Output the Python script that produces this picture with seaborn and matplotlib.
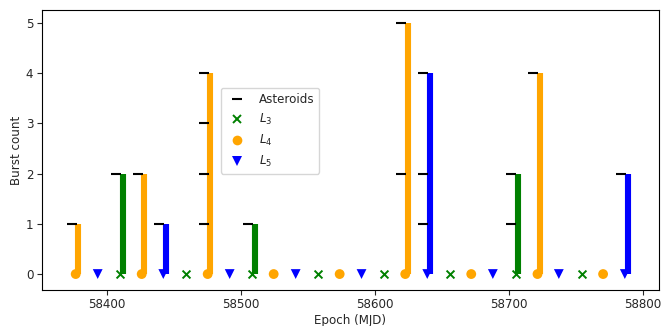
import matplotlib
matplotlib.use("Agg")
import matplotlib.pyplot as plt
import seaborn as sns
import pandas as pd
from matplotlib.lines import Line2D

sns.set_style("ticks")
plt.rcParams['font.family'] = ['DejaVu Sans']
plt.rcParams['font.size'] = 8.6

# Epochs (MJD) of observation windows for each Lagrange region
l3_epochs = [58410.1, 58459.0, 58508.4, 58557.8, 58607.0, 58656.0, 58704.9, 58754.6]
l4_epochs = [58377.0, 58426.2, 58475.4, 58524.6, 58573.8, 58622.7, 58671.9, 58721.3, 58770.2]
l5_epochs = [58393.4, 58442.3, 58491.8, 58541.0, 58590.1, 58639.1, 58688.0, 58737.2, 58786.4]

# Burst counts per epoch
burst_epochs = [58377.0, 58410.1, 58426.2, 58442.3, 58475.4, 58508.4, 58622.7, 58639.1, 58704.9, 58721.3, 58786.4]
burst_counts = [1, 2, 2, 1, 4, 1, 5, 4, 2, 4, 2]
burst_region = ["L4", "L3", "L4", "L5", "L4", "L3", "L4", "L5", "L3", "L4", "L5"]

# Asteroid marks (epoch, level)
ast_epochs = [58377.0, 58410.1, 58426.2, 58442.3,
              58475.4, 58475.4, 58475.4, 58475.4,
              58508.4, 58622.7, 58622.7,
              58639.1, 58639.1, 58639.1,
              58704.9, 58704.9, 58721.3, 58786.4]
ast_levels = [1, 2, 2, 1,
              1, 2, 3, 4,
              1, 2, 5,
              1, 2, 4,
              1, 2, 4, 2]

colors = {"L3": "green", "L4": "orange", "L5": "blue"}
markers = {"L3": "x", "L4": "o", "L5": "v"}

fig = plt.figure(figsize=(6.63, 3.26), dpi=100)
ax = fig.add_axes([0.063, 0.110, 0.931, 0.859])

# Bars
bdf = pd.DataFrame({"epoch": burst_epochs, "count": burst_counts, "region": burst_region})
for _, r in bdf.iterrows():
    ax.vlines(r["epoch"] + 2.0, 0, r["count"], color=colors[r["region"]], linewidth=4.4, zorder=2)

# Asteroid markers
adf = pd.DataFrame({"epoch": [e - 3.0 for e in ast_epochs], "level": ast_levels})
sns.scatterplot(data=adf, x="epoch", y="level", marker="_", color="black", s=45,
                linewidth=1.5, ax=ax, zorder=3, legend=False)

# Region markers at zero
for reg, eps in (("L3", l3_epochs), ("L4", l4_epochs), ("L5", l5_epochs)):
    d = pd.DataFrame({"epoch": eps, "y": [0] * len(eps)})
    if reg == "L3":
        sns.scatterplot(data=d, x="epoch", y="y", marker="x", color=colors[reg], s=32,
                        linewidth=1.4, ax=ax, zorder=4, legend=False)
    else:
        sns.scatterplot(data=d, x="epoch", y="y", marker=markers[reg], color=colors[reg], s=50,
                        edgecolor="none", ax=ax, zorder=4, legend=False)

ax.set_xlim(58351.7, 58811.9)
ax.set_ylim(-0.32, 5.25)
ax.set_xticks([58400, 58500, 58600, 58700, 58800])
ax.set_yticks([0, 1, 2, 3, 4, 5])
ax.tick_params(axis="both", pad=2.5, length=3.5)
ax.set_xlabel("Epoch (MJD)", labelpad=2)
ax.set_ylabel("Burst count", labelpad=2)
for s in ax.spines.values():
    s.set_color("black")
    s.set_linewidth(0.8)

handles = [
    Line2D([], [], marker="_", color="black", linestyle="none", markersize=7, markeredgewidth=1.5),
    Line2D([], [], marker="x", color="green", linestyle="none", markersize=6, markeredgewidth=1.4),
    Line2D([], [], marker="o", color="orange", linestyle="none", markersize=7, markeredgewidth=0),
    Line2D([], [], marker="v", color="blue", linestyle="none", markersize=7, markeredgewidth=0),
]
labels = ["Asteroids", "$L_3$", "$L_4$", "$L_5$"]
ax.legend(handles, labels, loc="upper left", bbox_to_anchor=(0.290, 0.722),
          borderaxespad=0, frameon=True, fontsize=8.6)

fig.savefig("out.png", dpi=100)
